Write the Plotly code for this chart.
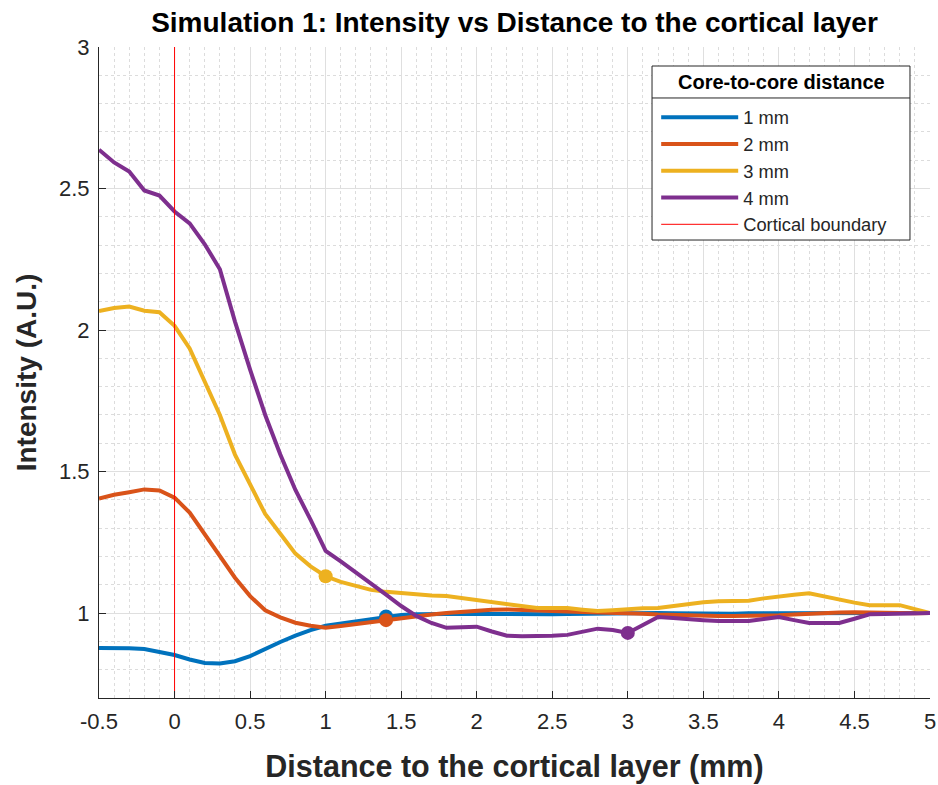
import plotly.graph_objects as go

distance = [-0.5, -0.4, -0.3, -0.2, -0.1, 0.0, 0.1, 0.2, 0.3, 0.4,
            0.5, 0.6, 0.7, 0.8, 0.9, 1.0, 1.1, 1.2, 1.3, 1.4,
            1.5, 1.6, 1.7, 1.8, 1.9, 2.0, 2.1, 2.2, 2.3, 2.4,
            2.5, 2.6, 2.7, 2.8, 2.9, 3.0, 3.1, 3.2, 3.3, 3.4,
            3.5, 3.6, 3.7, 3.8, 3.9, 4.0, 4.1, 4.2, 4.3, 4.4,
            4.5, 4.6, 4.7, 4.8, 4.9, 5.0]

intensity_1mm = [0.877, 0.878, 0.876, 0.873, 0.864, 0.852, 0.836, 0.824, 0.822, 0.830,
                 0.848, 0.874, 0.898, 0.920, 0.940, 0.955, 0.963, 0.970, 0.978, 0.988,
                 0.993, 0.996, 0.997, 0.998, 0.998, 0.998, 0.997, 0.996, 0.996, 0.995,
                 0.996, 0.997, 0.998, 0.999, 1.000, 1.000, 1.000, 1.000, 0.999, 0.998,
                 0.998, 0.998, 0.998, 0.999, 0.999, 1.000, 1.000, 1.000, 1.000, 1.000,
                 0.999, 0.999, 1.000, 1.000, 1.000, 1.000]

intensity_2mm = [1.405, 1.418, 1.427, 1.437, 1.433, 1.408, 1.355, 1.280, 1.200, 1.125,
                 1.060, 1.010, 0.985, 0.966, 0.955, 0.948, 0.954, 0.961, 0.968, 0.975,
                 0.984, 0.990, 0.995, 1.000, 1.005, 1.010, 1.012, 1.013, 1.012, 1.010,
                 1.008, 1.006, 1.004, 1.003, 1.002, 1.000, 0.998, 0.995, 0.993, 0.992,
                 0.990, 0.990, 0.990, 0.990, 0.990, 0.992, 0.995, 0.998, 1.000, 1.002,
                 1.003, 1.002, 1.000, 0.998, 0.999, 1.000]

intensity_3mm = [2.067, 2.078, 2.083, 2.068, 2.063, 2.015, 1.935, 1.820, 1.700, 1.560,
                 1.455, 1.350, 1.280, 1.210, 1.165, 1.130, 1.110, 1.095, 1.082, 1.075,
                 1.070, 1.065, 1.062, 1.060, 1.053, 1.046, 1.040, 1.035, 1.026, 1.018,
                 1.018, 1.018, 1.012, 1.007, 1.010, 1.015, 1.017, 1.018, 1.025, 1.032,
                 1.038, 1.042, 1.043, 1.044, 1.052, 1.060, 1.065, 1.070, 1.058, 1.046,
                 1.037, 1.028, 1.028, 1.028, 1.014, 1.000]

intensity_4mm = [2.637, 2.592, 2.560, 2.493, 2.475, 2.419, 2.377, 2.303, 2.215, 2.030,
                 1.860, 1.700, 1.560, 1.435, 1.330, 1.220, 1.183, 1.145, 1.105, 1.065,
                 1.025, 0.990, 0.965, 0.948, 0.950, 0.952, 0.935, 0.920, 0.918, 0.918,
                 0.920, 0.923, 0.935, 0.945, 0.940, 0.930, 0.958, 0.986, 0.983, 0.978,
                 0.975, 0.972, 0.972, 0.972, 0.979, 0.986, 0.975, 0.965, 0.965, 0.965,
                 0.980, 0.996, 0.997, 0.998, 0.999, 1.000]

series_names = ["1 mm", "2 mm", "3 mm", "4 mm"]
series_colors = ["#0072BD", "#D95319", "#EDB120", "#7E2F8E"]
# highlighted point (x position) for each series
marker_x = [1.4, 1.4, 1.0, 3.0]

cortical_boundary = 0.0
y_limits = [0.7, 3.0]
x_limits = [-0.5, 5.0]
x_ticks = [-0.5, 0, 0.5, 1, 1.5, 2, 2.5, 3, 3.5, 4, 4.5, 5]
x_tick_labels = ["-0.5", "0", "0.5", "1", "1.5", "2", "2.5", "3", "3.5", "4", "4.5", "5"]
y_ticks = [1, 1.5, 2, 2.5, 3]
y_tick_labels = ["1", "1.5", "2", "2.5", "3"]
legend_title = "Core-to-core distance"

all_series = [intensity_1mm, intensity_2mm, intensity_3mm, intensity_4mm]

FONT = "Liberation Sans, Arial, sans-serif"
AXC = "#262626"

fig = go.Figure()
for name, color, ys in zip(series_names, series_colors, all_series):
    fig.add_trace(go.Scatter(x=distance, y=ys, mode="lines", name=name,
                             line=dict(color=color, width=4)))

fig.add_trace(go.Scatter(x=[cortical_boundary, cortical_boundary], y=y_limits,
                         mode="lines", name="Cortical boundary",
                         line=dict(color="#FF0000", width=1)))

for color, ys, mx in zip(series_colors, all_series, marker_x):
    idx = min(range(len(distance)), key=lambda i: abs(distance[i] - mx))
    fig.add_trace(go.Scatter(x=[distance[idx]], y=[ys[idx]], mode="markers",
                             showlegend=False,
                             marker=dict(color=color, size=14)))

# legend frame (box + title separator), drawn in paper coordinates
box_x0, box_x1, box_y0, box_y1, sep_y = 0.6655, 0.9759, 0.7035, 0.9708, 0.9217
fig.add_shape(type="rect", xref="paper", yref="paper", x0=box_x0, x1=box_x1,
              y0=box_y0, y1=box_y1, fillcolor="white",
              line=dict(color=AXC, width=1), layer="above")
fig.add_shape(type="line", xref="paper", yref="paper", x0=box_x0, x1=box_x1,
              y0=sep_y, y1=sep_y, line=dict(color=AXC, width=1), layer="above")
fig.add_annotation(text="<b>" + legend_title + "</b>", xref="paper", yref="paper",
                   x=(box_x0 + box_x1) / 2, y=(box_y1 + sep_y) / 2,
                   xanchor="center", yanchor="middle", showarrow=False,
                   font=dict(size=20, color="black", family=FONT))

fig.update_layout(
    width=938, height=785,
    margin=dict(l=99, r=8, t=47, b=87),
    paper_bgcolor="white", plot_bgcolor="white",
    font=dict(family=FONT, color=AXC),
    title=dict(text="<b>Simulation 1: Intensity vs Distance to the cortical layer</b>",
               x=0.5485, xanchor="center", y=0.972, yanchor="middle",
               font=dict(size=28, color="black")),
    legend=dict(
        x=0.6705, y=0.9205, xanchor="left", yanchor="top",
        bgcolor="rgba(0,0,0,0)", borderwidth=0,
        font=dict(size=18.3, color=AXC),
        itemwidth=77, tracegroupgap=0,
    ),
)

fig.update_xaxes(
    range=x_limits, tickvals=x_ticks, ticktext=x_tick_labels,
    showline=True, linecolor=AXC, linewidth=1, mirror=False,
    ticks="inside", ticklen=7, tickcolor=AXC, ticklabelstandoff=4,
    tickfont=dict(size=22, color=AXC), automargin=False,
    showgrid=True, gridcolor="#DFDFDF", gridwidth=1, zeroline=False,
    minor=dict(dtick=0.1, tick0=0, showgrid=True, gridcolor="#DCDCDC",
               griddash="dot", gridwidth=1),
    title=dict(text="<b>Distance to the cortical layer (mm)</b>",
               font=dict(size=30.5, color=AXC), standoff=22),
)
fig.update_yaxes(
    range=y_limits, tickvals=y_ticks, ticktext=y_tick_labels,
    showline=True, linecolor=AXC, linewidth=1, mirror=False,
    ticks="inside", ticklen=7, tickcolor=AXC, ticklabelstandoff=4,
    tickfont=dict(size=22, color=AXC), automargin=False,
    showgrid=True, gridcolor="#DFDFDF", gridwidth=1, zeroline=False,
    minor=dict(dtick=0.1, tick0=0, showgrid=True, gridcolor="#DCDCDC",
               griddash="dot", gridwidth=1),
    title=dict(text="<b>Intensity (A.U.)</b>", font=dict(size=28, color=AXC), standoff=14),
)

fig.write_html("out.html")
